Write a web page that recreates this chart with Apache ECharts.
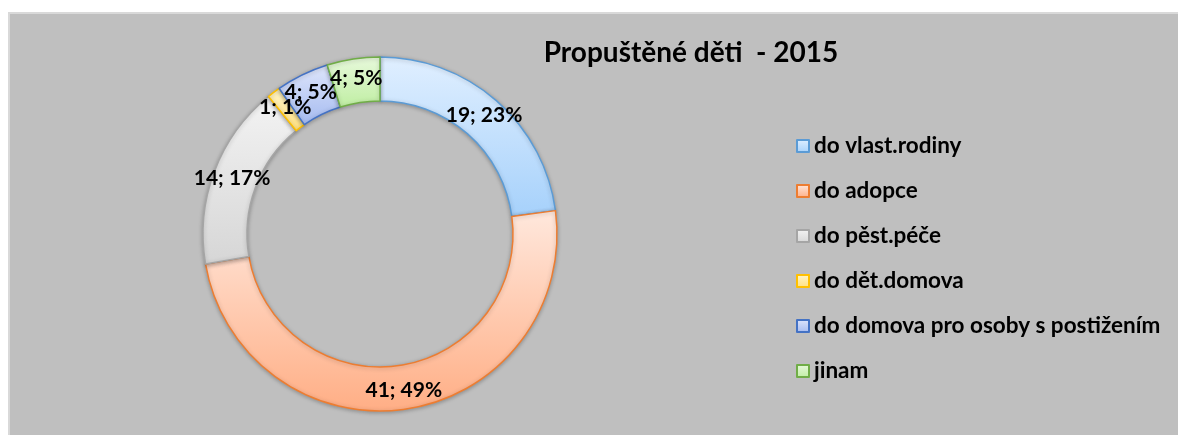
<!DOCTYPE html>
<html>
<head>
<meta charset="utf-8">
<title>Propuštěné děti - 2015</title>
<script src="https://cdn.jsdelivr.net/npm/echarts@6/dist/echarts.min.js"></script>
<style>
  html, body { margin: 0; padding: 0; background: #ffffff; overflow: hidden; }
  #main {
    position: absolute; left: 8px; top: 12px;
    width: 1180px; height: 430px;
    border-left: 2px solid #d9d9d9; border-top: 2px solid #d9d9d9;
    background: #bfbfbf;
  }
</style>
</head>
<body>
<div id="main"></div>
<script type="text/javascript">
// data
var categories = ['do vlast.rodiny', 'do adopce', 'do pěst.péče', 'do dět.domova', 'do domova pro osoby s postižením', 'jinam'];
var counts = [19, 41, 14, 1, 4, 4];

// look of each slice: gradient top, gradient bottom, outline
var topColors = ['#e0efff', '#ffe8dd', '#f3f3f3', '#fff5c8', '#dfe6fb', '#e8f9dc'];
var bottomColors = ['#a6d1fb', '#ffae85', '#d6d6d6', '#ffe07f', '#a4baf0', '#bfeea2'];
var lineColors = ['#5b9bd5', '#ed7d31', '#a5a5a5', '#ffc000', '#4472c4', '#70ad47'];

var FONT = 'Lato';

var pieData = [];
for (var i = 0; i < categories.length; i++) {
  pieData.push({
    name: categories[i],
    value: counts[i],
    itemStyle: {
      color: new echarts.graphic.LinearGradient(0, 0, 0, 1, [
        { offset: 0, color: topColors[i] },
        { offset: 1, color: bottomColors[i] }
      ]),
      borderColor: lineColors[i],
      borderWidth: 1.5
    }
  });
}

var myChart = echarts.init(document.getElementById('main'));

var option = {
  animation: false,
  title: {
    text: 'Propuštěné děti  - 2015',
    left: 676,
    top: 20,
    textAlign: 'center',
    textStyle: { fontFamily: FONT, fontWeight: 'bold', fontSize: 28, color: '#000' }
  },
  legend: {
    orient: 'vertical',
    left: 781,
    top: 115,
    icon: 'rect',
    itemWidth: 12,
    itemHeight: 12,
    itemGap: 21,
    data: categories,
    textStyle: { fontFamily: FONT, fontWeight: 'bold', fontSize: 22.5, color: '#000', lineHeight: 24 }
  },
  series: [{
    type: 'pie',
    center: [370, 220],
    radius: [133, 177],
    startAngle: 90,
    clockwise: true,
    percentPrecision: 0,
    avoidLabelOverlap: false,
    labelLayout: { hideOverlap: false },
    label: {
      show: true,
      position: 'inside',
      formatter: '{c}; {d}%',
      fontFamily: FONT,
      fontWeight: 'bold',
      fontSize: 21,
      color: '#000'
    },
    labelLine: { show: false },
    emphasis: { disabled: true },
    itemStyle: {
      shadowBlur: 4,
      shadowColor: 'rgba(0,0,0,0.25)',
      shadowOffsetY: 1
    },
    data: pieData
  }]
};

myChart.setOption(option);
</script>
</body>
</html>
